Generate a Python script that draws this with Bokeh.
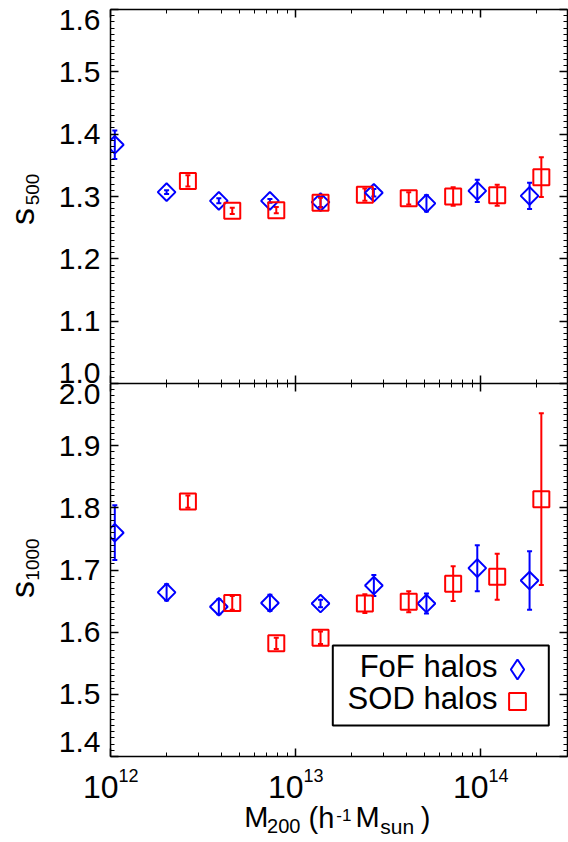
import numpy as np
from bokeh.plotting import figure
from bokeh.layouts import column, row
from bokeh.models import (ColumnDataSource, Whisker, TeeHead, LinearAxis, LogAxis,
                          FixedTicker, Label, BoxAnnotation, Legend, LegendItem,
                          CustomJSTickFormatter, Range1d)
from bokeh.embed import file_html
from bokeh.resources import INLINE

# ---------------- data ----------------
fof_mass = [1.055e12, 2.01e12, 3.85e12, 7.27e12, 1.365e13, 2.65e13, 5.1e13, 9.6e13, 1.84e14]
fof_s500 = [1.383, 1.307, 1.293, 1.293, 1.291, 1.306, 1.289, 1.309, 1.301]
fof_s500_err = [0.023, 0.003, 0.004, 0.003, 0.008, 0.006, 0.013, 0.018, 0.021]
fof_s1000 = [1.760, 1.664, 1.641, 1.647, 1.646, 1.675, 1.646, 1.703, 1.683]
fof_s1000_err = [0.044, 0.013, 0.012, 0.013, 0.006, 0.017, 0.016, 0.037, 0.047]

sod_mass = [2.62e12, 4.55e12, 7.87e12, 1.365e13, 2.37e13, 4.09e13, 7.11e13, 1.23e14, 2.13e14]
sod_s500 = [1.325, 1.277, 1.278, 1.290, 1.303, 1.297, 1.300, 1.302, 1.331]
sod_s500_err = [0.009, 0.005, 0.005, 0.008, 0.010, 0.010, 0.015, 0.017, 0.032]
sod_s1000 = [1.810, 1.647, 1.582, 1.591, 1.646, 1.649, 1.678, 1.689, 1.814]
sod_s1000_err = [0.010, 0.011, 0.009, 0.010, 0.015, 0.017, 0.028, 0.037, 0.138]

x_major_ticks = [1e12, 1e13, 1e14]
top_y_range = (1.0, 1.6)
bottom_y_range = (1.4, 2.0)
top_y_ticks = [1.1, 1.2, 1.3, 1.4, 1.5]
bottom_y_ticks = [1.5, 1.6, 1.7, 1.8, 1.9]
legend_labels = ["FoF halos", "SOD halos"]

# ---------------- layout constants ----------------
FONT = "Liberation Sans"
BLUE = "#0000ff"
RED = "#ff0000"
X_RANGE = (1e12, 2.95e14)
PAGE_W, PAGE_H = 568, 842
LT_W = 108                      # left text strip
MAIN_W = PAGE_W - LT_W          # 460 -> frame x 110..567
TOP_H, BOT_H = 383, 375         # top frame 9..383, bottom frame 383..756
XT_H = PAGE_H - TOP_H - BOT_H   # bottom text strip (84)
FRAME_L, FRAME_R = 110, 567
TOP_Y0, MID_Y, BOT_Y1 = 9, 383, 756
x_minor_ticks = [m * 10.0 ** e for e in (12, 13, 14) for m in range(2, 10)]


def style_axis(ax, ticker):
    ax.ticker = ticker
    ax.formatter = CustomJSTickFormatter(code="return ''")
    ax.major_label_standoff = 0
    ax.axis_line_color = "black"
    ax.axis_line_width = 1.5
    ax.major_tick_line_color = "black"
    ax.major_tick_line_width = 1.5
    ax.minor_tick_line_color = "black"
    ax.minor_tick_line_width = 1
    ax.major_tick_in = 8
    ax.major_tick_out = 0
    ax.minor_tick_in = 4
    ax.minor_tick_out = 0


def make_fig(height, y_range, b_top, b_bottom, yticks):
    p = figure(width=MAIN_W, height=height, x_axis_type="log", x_range=X_RANGE,
               y_range=y_range, output_backend="svg", toolbar_location=None,
               min_border_left=FRAME_L - LT_W, min_border_right=PAGE_W - FRAME_R,
               min_border_top=b_top, min_border_bottom=b_bottom,
               outline_line_color=None,
               background_fill_color="white", border_fill_color="white")
    p.grid.visible = False
    lo, hi = y_range
    n = int(round((hi - lo) / 0.01))
    yminor = [round(lo + 0.01 * i, 2) for i in range(n + 1)]
    style_axis(p.xaxis[0], FixedTicker(ticks=x_major_ticks, minor_ticks=x_minor_ticks))
    style_axis(p.yaxis[0], FixedTicker(ticks=[lo] + yticks + [hi], minor_ticks=yminor))
    top_ax = LogAxis()
    style_axis(top_ax, FixedTicker(ticks=x_major_ticks, minor_ticks=x_minor_ticks))
    p.add_layout(top_ax, "above")
    right_ax = LinearAxis()
    style_axis(right_ax, FixedTicker(ticks=[lo] + yticks + [hi], minor_ticks=yminor))
    p.add_layout(right_ax, "right")
    return p


def add_series(p, mass, vals, errs, color, size, angle):
    src = ColumnDataSource(dict(
        x=mass, y=vals,
        upper=[v + e for v, e in zip(vals, errs)],
        lower=[v - e for v, e in zip(vals, errs)]))
    r = p.scatter("x", "y", source=src, marker="square", size=size, angle=angle,
                  fill_color=None, line_color=color, line_width=2)
    w = Whisker(source=src, base="x", upper="upper", lower="lower", dimension="height",
                line_color=color, line_width=2,
                upper_head=TeeHead(size=5, line_color=color, line_width=2),
                lower_head=TeeHead(size=5, line_color=color, line_width=2))
    p.add_layout(w)
    return r


# ---------------- panels ----------------
top = make_fig(TOP_H, top_y_range, TOP_Y0, 0, top_y_ticks)
add_series(top, fof_mass, fof_s500, fof_s500_err, BLUE, 12.5, np.pi / 4)
add_series(top, sod_mass, sod_s500, sod_s500_err, RED, 16, 0.0)

bot = make_fig(BOT_H, bottom_y_range, 0, BOT_H - (BOT_Y1 - MID_Y), bottom_y_ticks)
add_series(bot, fof_mass, fof_s1000, fof_s1000_err, BLUE, 12.5, np.pi / 4)
r_sod = add_series(bot, sod_mass, sod_s1000, sod_s1000_err, RED, 16, 0.0)
# legend key for FoF: a renderer without plotted points (NaN), only gives the legend symbol
r_fof_key = bot.scatter(x=[np.nan], y=[np.nan], marker="diamond", fill_color=None,
                        line_color=BLUE, line_width=2)

# legend: box, right-aligned labels, symbols on the right
bot.add_layout(BoxAnnotation(left=222.3, right=438.3, top=111, bottom=31,
                             left_units="screen", right_units="screen",
                             top_units="screen", bottom_units="screen",
                             fill_color="white", fill_alpha=1.0,
                             line_color="black", line_alpha=1.0, line_width=2))
for lab, cy in zip(legend_labels, [666, 697.5]):
    bot.add_layout(Label(x=497 - FRAME_L, y=BOT_Y1 - cy, x_units="screen", y_units="screen",
                         text=lab, text_align="right", text_baseline="middle",
                         text_font=FONT, text_font_size="31px", text_color="black"))
for rend, g, (cx, cy) in [(r_fof_key, 50, (517.3, 669.3)), (r_sod, 42, (517.3, 701))]:
    loc = (cx - g / 2 - FRAME_L, BOT_Y1 - (cy + g / 2))
    bot.add_layout(Legend(items=[LegendItem(label="", renderers=[rend])], location=loc,
                          glyph_width=g, glyph_height=g, label_width=0, label_height=0,
                          label_standoff=0, padding=0, margin=0, spacing=0,
                          border_line_color=None, background_fill_alpha=0))

# ---------------- left text strip (y tick labels + y titles) ----------------
LT_H = TOP_H + BOT_H
ppu_t = (MID_Y - TOP_Y0) / (top_y_range[1] - top_y_range[0])
ppu_b = (BOT_Y1 - MID_Y) / (bottom_y_range[1] - bottom_y_range[0])
lt = figure(width=LT_W, height=LT_H, x_range=Range1d(0, LT_W),
            y_range=Range1d(top_y_range[0] - (LT_H - MID_Y) / ppu_t,
                            top_y_range[1] + TOP_Y0 / ppu_t),
            x_axis_location=None, y_axis_location=None, output_backend="svg",
            toolbar_location=None, min_border_left=0, min_border_right=0,
            min_border_top=0, min_border_bottom=0, outline_line_color=None)
lt.extra_y_ranges = {"bot": Range1d(bottom_y_range[0] - (LT_H - BOT_Y1) / ppu_b,
                                    bottom_y_range[1] + MID_Y / ppu_b)}
lt.grid.visible = False


def tick_label(fig, v, shift_px, ppu, rng="default"):
    # shift_px > 0 moves the label down (kept inside the axis span at its ends)
    fig.add_layout(Label(x=FRAME_L - 10, y=v - shift_px / ppu, y_range_name=rng,
                         text=f"{v:.1f}", text_align="right", text_baseline="middle",
                         text_font=FONT, text_font_size="30px", text_color="black"))


for v in top_y_ticks:
    tick_label(lt, v, 0, ppu_t)
tick_label(lt, top_y_range[1], 10, ppu_t)
tick_label(lt, top_y_range[0], -11, ppu_t)
for v in bottom_y_ticks:
    tick_label(lt, v, 0, ppu_b, "bot")
tick_label(lt, bottom_y_range[1], 10, ppu_b, "bot")
tick_label(lt, bottom_y_range[0], -15, ppu_b, "bot")


def ytitle(fig, sub, s_center, sub_center):
    (sx, sy), (bx, by) = s_center, sub_center
    fig.add_layout(Label(x=sx, y=LT_H - sy, y_units="screen", text="s",
                         angle=np.pi / 2, text_align="center", text_baseline="middle",
                         text_font=FONT, text_font_size="34px", text_color="black"))
    fig.add_layout(Label(x=bx, y=LT_H - by, y_units="screen", text=sub,
                         angle=np.pi / 2, text_align="center", text_baseline="middle",
                         text_font=FONT, text_font_size="19px", text_color="black"))


ytitle(lt, "500", (21, 216), (31.5, 189))
ytitle(lt, "1000", (21, 589), (31.5, 559))

# ---------------- bottom text strip (x tick labels + x title) ----------------
D = (FRAME_R - FRAME_L) / np.log10(X_RANGE[1] / X_RANGE[0])
xt = figure(width=PAGE_W, height=XT_H, x_axis_type="log",
            x_range=Range1d(X_RANGE[0] * 10 ** (-FRAME_L / D),
                            X_RANGE[0] * 10 ** ((PAGE_W - FRAME_L) / D)),
            y_range=Range1d(XT_H, 0),
            x_axis_location=None, y_axis_location=None, output_backend="svg",
            toolbar_location=None, min_border_left=0, min_border_right=0,
            min_border_top=0, min_border_bottom=0, outline_line_color=None)
xt.grid.visible = False
Y0 = LT_H  # page y of the strip's top
for t in x_major_ticks:
    e = int(round(np.log10(t)))
    xt.add_layout(Label(x=t, y=786 - Y0, text="10", text_align="right", x_offset=8,
                        text_baseline="middle", text_font=FONT,
                        text_font_size="32px", text_color="black"))
    xt.add_layout(Label(x=t, y=774.5 - Y0, text=str(e), text_align="left", x_offset=8,
                        text_baseline="middle", text_font=FONT,
                        text_font_size="18px", text_color="black"))

pieces = [("M", 255.8, 816.5, "29px"), ("200", 283.3, 825.5, "20px"),
          ("(h", 321.0, 817.0, "29px"), ("-1", 343.3, 814.0, "17px"),
          ("M", 367.2, 816.5, "29px"), ("sun", 396.7, 826.0, "21px"),
          (")", 425.0, 817.0, "29px")]
for t, px, py, fs in pieces:
    xt.add_layout(Label(x=px, x_units="screen", y=py - Y0, text=t,
                        text_align="center", text_baseline="middle",
                        text_font=FONT, text_font_size=fs, text_color="black"))

layout = column(row(lt, column(top, bot, spacing=0), spacing=0), xt, spacing=0)
open("out.html", "w").write(file_html(layout, INLINE))
